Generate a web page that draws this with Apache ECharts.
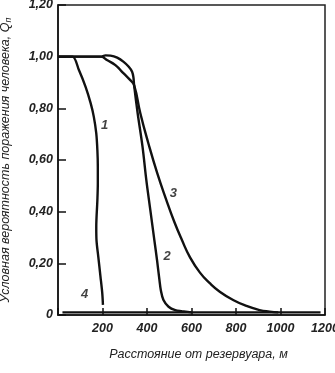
<!DOCTYPE html>
<html>
<head>
<meta charset="utf-8">
<script src="https://cdn.jsdelivr.net/npm/echarts@6/dist/echarts.min.js"></script>
<style>
html,body{margin:0;padding:0;background:#fff;}
#c{width:335px;height:373px;}
</style>
</head>
<body>
<div id="c"></div>
<script>
// Distance from the reservoir, m  -> conditional probability of injury
const curve1 = [[3,1.0],[65,1.0],[94,0.948],[124,0.883],[147,0.819],[161,0.767],[172,0.703],[177,0.638],[179,0.574],[179,0.509],[177,0.445],[172,0.342],[173,0.290],[181,0.226],[191,0.148],[199,0.084],[202,0.039]];
const curve2 = [[3,1.0],[190,1.0],[214,1.005],[236,1.004],[266,0.996],[295,0.980],[318,0.961],[333,0.942],[339,0.92],[342,0.89],[358,0.781],[380,0.651],[397,0.522],[415,0.406],[433,0.290],[445,0.213],[456,0.135],[462,0.097],[474,0.058],[497,0.032],[527,0.019],[557,0.015],[600,0.01]];
const curve3 = [[3,1.0],[190,1.0],[222,0.986],[258,0.967],[295,0.935],[325,0.909],[342,0.89],[370,0.781],[406,0.665],[446,0.549],[487,0.445],[523,0.360],[556,0.292],[594,0.222],[638,0.164],[682,0.123],[727,0.090],[787,0.058],[847,0.035],[906,0.019],[951,0.013],[990,0.01]];
const curve4 = [[20,0.01],[1180,0.01]];
const curveLabels = [
  {name:'1', value:[209,0.735]},
  {name:'2', value:[490,0.225]},
  {name:'3', value:[518,0.472]},
  {name:'4', value:[120,0.08]}
];
const xTitle = 'Расстояние от резервуара, м';
const yTitle = 'Условная вероятность поражения человека, Q';
const ySub = 'п';

const chart = echarts.init(document.getElementById('c'));
const lineStyle = {color:'#111', width:2.4};
function lineSeries(d, s){
  return {type:'line', data:d, symbol:'none', smooth:s, lineStyle:lineStyle, z:3};
}
chart.setOption({
  animation:false,
  backgroundColor:'#fff',
  grid:{left:58, right:10, top:5, bottom:58, containLabel:false, outerBoundsMode:'none', show:true, borderColor:'#222', borderWidth:1.5, backgroundColor:'transparent'},
  xAxis:{
    type:'value', min:0, max:1200, interval:200,
    axisLine:{show:true, lineStyle:{color:'#111', width:1.5}},
    axisTick:{show:true, inside:true, length:7, lineStyle:{color:'#111', width:1.5}},
    splitLine:{show:false},
    axisLabel:{
      margin:7, color:'#222', fontFamily:'Liberation Sans', fontStyle:'italic', fontWeight:'bold', fontSize:12.5,
      formatter:function(v){return v===0?'':String(v);}
    },
    name:xTitle, nameLocation:'middle', nameGap:33,
    nameTextStyle:{fontFamily:'Liberation Sans', fontStyle:'italic', fontSize:12.5, color:'#222', padding:[0,0,0,14]}
  },
  yAxis:{
    type:'value', min:0, max:1.2, interval:0.2,
    axisLine:{show:true, lineStyle:{color:'#111', width:1.5}},
    axisTick:{show:true, inside:true, length:8, lineStyle:{color:'#111', width:1.5}},
    splitLine:{show:false},
    axisLabel:{
      margin:5, color:'#222', fontFamily:'Liberation Sans', fontStyle:'italic', fontWeight:'bold', fontSize:12.5,
      formatter:function(v){return v===0?'0':v.toFixed(2).replace('.',',');}
    },
    name:'{m|'+yTitle+'}{s|'+ySub+'}', nameLocation:'middle', nameGap:45,
    nameTextStyle:{
      rich:{
        m:{fontFamily:'Liberation Sans', fontStyle:'italic', fontSize:12.5, color:'#222'},
        s:{fontFamily:'Liberation Sans', fontStyle:'italic', fontSize:9, color:'#222', padding:[5,0,0,0]}
      }
    }
  },
  series:[
    lineSeries(curve1, 0.3),
    lineSeries(curve2, 0.35),
    lineSeries(curve3, 0.5),
    lineSeries(curve4, 0),
    {
      type:'scatter', data:curveLabels, symbolSize:0, z:4,
      label:{show:true, position:'inside', formatter:'{b}', fontFamily:'Liberation Sans', fontStyle:'italic', fontWeight:'bold', fontSize:13, color:'#111'}
    }
  ]
});
</script>
</body>
</html>
